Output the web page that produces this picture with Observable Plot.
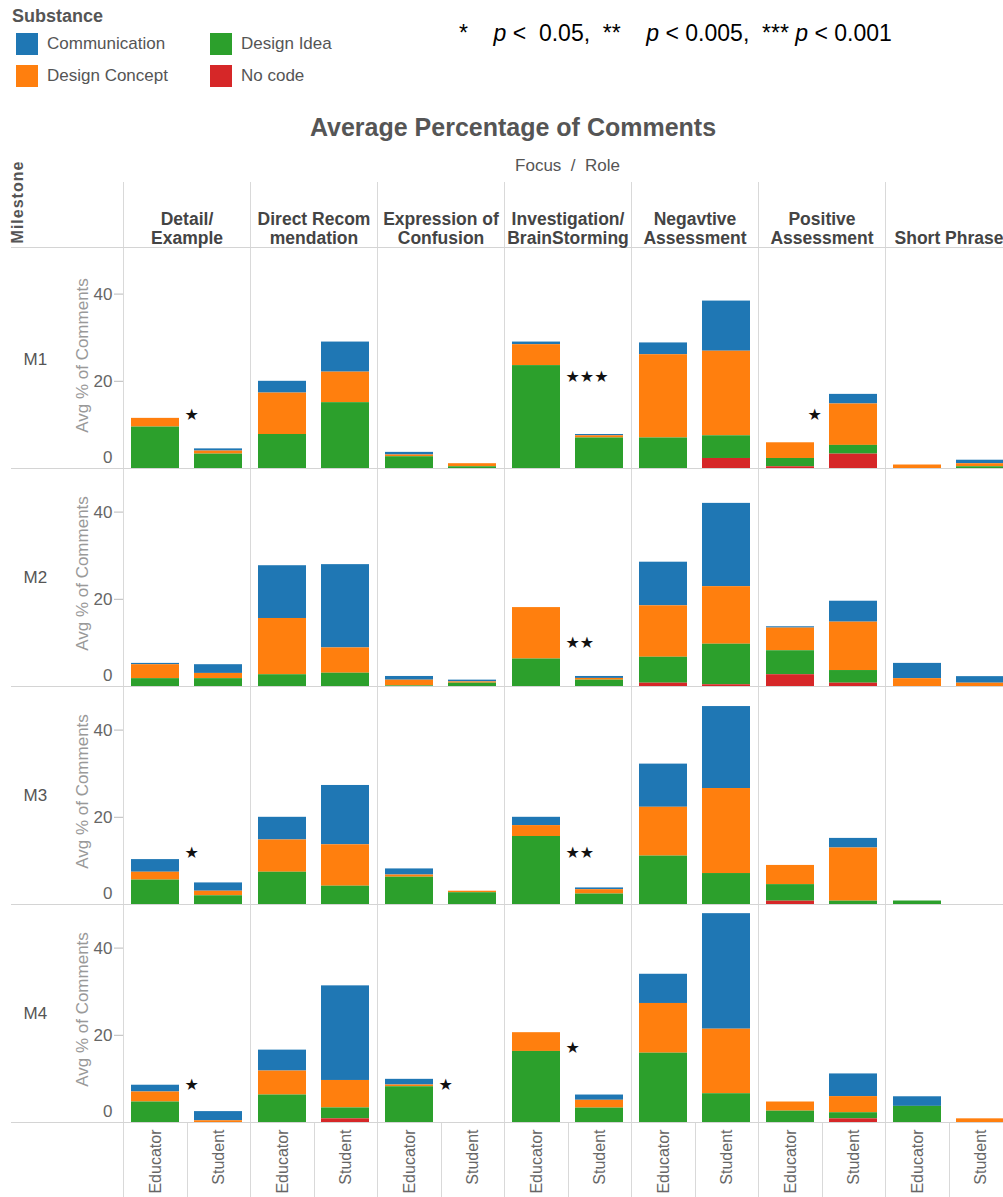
<!DOCTYPE html>
<html>
<head>
<meta charset="utf-8">
<script src="https://cdn.jsdelivr.net/npm/d3@7"></script>
<script src="https://cdn.jsdelivr.net/npm/@observablehq/plot@0.6"></script>
<style>
  html, body { margin: 0; padding: 0; background: #fff; overflow: hidden; }
  #page { position: relative; width: 1003px; height: 1197px; overflow: hidden;
          font-family: "Liberation Sans", Arial, sans-serif; color: #555; }
  .abs { position: absolute; white-space: nowrap; }
  .sw { position: absolute; width: 22px; height: 22px; }
  .lg { position: absolute; font-size: 17px; line-height: 20px; color: #555; }
  .sig { position: absolute; left: 459px; font-size: 23px; line-height: 26px; top: 20px; color: #000; white-space: pre; }
  #chart { position: absolute; left: 0; top: 140px; }
</style>
</head>
<body>
<div id="page">
  <div class="abs" style="left:12px; top:5px; font-size:18px; font-weight:bold; line-height:22px; color:#555;">Substance</div>
  <div id="legend"></div>
  <div class="sig">*    <i>p</i> &lt;  0.05,  **    <i>p</i> &lt; 0.005,  *** <i>p</i> &lt; 0.001</div>
  <div class="abs" style="left:0; width:1026px; top:113px; text-align:center; font-size:25px; font-weight:bold; line-height:28px; color:#555;">Average Percentage of Comments</div>
  <div class="abs" style="left:467px; width:201px; top:156px; text-align:center; font-size:17px; line-height:20px; color:#555;">Focus&nbsp; /&nbsp; Role</div>
  <div class="abs" style="left:18px; top:202px; font-size:16px; font-weight:bold; letter-spacing:1px; line-height:18px; color:#555; transform: translate(-50%,-50%) rotate(-90deg);">Milestone</div>
  <div id="chart"></div>
</div>
<script>
// ---------------- data ----------------
const milestones = ["M1", "M2", "M3", "M4"];
const focusLabels = ["Detail/\nExample", "Direct Recom\nmendation", "Expression of\nConfusion",
  "Investigation/\nBrainStorming", "Negavtive\nAssessment", "Positive\nAssessment", "Short Phrase"];
const roles = ["Educator", "Student"];
const substances = ["Communication", "Design Concept", "Design Idea", "No code"];
const stackOrder = ["No code", "Design Idea", "Design Concept", "Communication"];
const substanceColors = ["#1f77b4", "#ff7f0e", "#2ca02c", "#d62728"];

// values per milestone: [Detail E,S, Direct E,S, Expression E,S, Investigation E,S, Negative E,S, Positive E,S, Short E,S]
const commM1    = [0,   0.5, 2.7, 6.9,  0.6,  0,    0.6,  0.3, 2.7,  11.5, 0,   2.2, 0,   0.8];
const conceptM1 = [2.0, 0.7, 9.5, 7.0,  0.4,  0.7,  4.8,  0.5, 19.1, 19.4, 3.6, 9.5, 0.8, 0.7];
const ideaM1    = [9.5, 3.3, 7.8, 15.1, 2.7,  0.4,  23.6, 7.0, 7.0,  5.2,  1.9, 2.0, 0,   0.4];
const nocodeM1  = [0,   0,   0,   0,    0,    0,    0,    0,   0,    2.3,  0.4, 3.3, 0,   0];

const commM2    = [0.3, 2.0, 12.1, 19.1, 0.85, 0.4,  0,    0.45, 10.0, 19.1, 0.3, 4.8,  3.5, 1.5];
const conceptM2 = [3.2, 1.2, 12.9, 5.8,  1.3,  0.3,  11.8, 0.4,  11.8, 13.2, 5.2, 11.1, 1.8, 0.76];
const ideaM2    = [1.8, 1.8, 2.7,  3.05, 0.15, 0.76, 6.3,  1.45, 5.95, 9.3,  5.5, 2.9,  0,   0];
const nocodeM2  = [0,   0,   0,    0,    0,    0,    0,    0,    0.76, 0.4,  2.7, 0.76, 0,   0];

const commM3    = [2.9, 1.9,  5.2, 13.6, 1.4,  0,    1.9,  0.4, 9.9,  18.8, 0,    2.2,  0,   0];
const conceptM3 = [1.8, 1.05, 7.4, 9.5,  0.5,  0.35, 2.5,  1.0, 11.2, 19.5, 4.4,  12.2, 0,   0];
const ideaM3    = [5.6, 2.0,  7.4, 4.2,  6.26, 2.7,  15.6, 2.4, 11.1, 7.1,  3.8,  0.76, 0.8, 0];
const nocodeM3  = [0,   0,    0,   0,    0,    0,    0,    0,   0,    0,    0.76, 0,    0,   0];

const commM4    = [1.55, 2.1, 4.8, 21.7, 1.3, 0, 0,    1.2, 6.7,  26.5, 0,   5.2,  2.2, 0];
const conceptM4 = [2.3,  0.4, 5.5, 6.3,  0.4, 0, 4.3,  1.8, 11.4, 14.8, 2.1, 3.7,  0,   0.84];
const ideaM4    = [4.7,  0,   6.3, 2.5,  8.2, 0, 16.3, 3.3, 15.9, 6.6,  2.6, 1.4,  3.7, 0];
const nocodeM4  = [0,    0,   0,   0.84, 0,   0, 0,    0,   0,    0,    0,   0.84, 0,   0];

// significance markers
const starMilestones = ["M1", "M1", "M2", "M3", "M3", "M4", "M4", "M4"];
const starFocus = [0, 3, 3, 0, 3, 0, 2, 3];
const starTexts = ["★", "★★★", "★★", "★", "★★", "★", "★", "★"];
const starValues = [12.4, 21.0, 10.0, 11.75, 11.9, 8.6, 8.6, 17.2];
const star2Milestones = ["M1"];
const star2Focus = [5];
const star2Texts = ["★"];
const star2Values = [12.3];

// ---------------- table ----------------
const series = {
  "Communication":  [commM1, commM2, commM3, commM4],
  "Design Concept": [conceptM1, conceptM2, conceptM3, conceptM4],
  "Design Idea":    [ideaM1, ideaM2, ideaM3, ideaM4],
  "No code":        [nocodeM1, nocodeM2, nocodeM3, nocodeM4]
};
const table = [];
for (const s of substances) {
  series[s].forEach((arr, mi) => {
    arr.forEach((v, i) => {
      table.push({milestone: milestones[mi], focus: focusLabels[Math.floor(i / 2)], role: roles[i % 2], substance: s, value: v});
    });
  });
}
const stars = starTexts.map((t, i) => ({milestone: starMilestones[i], focus: focusLabels[starFocus[i]], text: t, value: starValues[i]}));
const stars2 = star2Texts.map((t, i) => ({milestone: star2Milestones[i], focus: focusLabels[star2Focus[i]], text: t, value: star2Values[i]}));

// ---------------- legend ----------------
const legendPos = [[16, 33], [16, 65], [210, 33], [210, 65]];
const legend = document.getElementById("legend");
substances.forEach((s, i) => {
  const [x, y] = legendPos[i];
  const sw = document.createElement("div");
  sw.className = "sw"; sw.style.left = x + "px"; sw.style.top = y + "px"; sw.style.background = substanceColors[i];
  legend.appendChild(sw);
  const lb = document.createElement("div");
  lb.className = "lg"; lb.style.left = (x + 31) + "px"; lb.style.top = (y + 1) + "px"; lb.textContent = s;
  legend.appendChild(lb);
});

// ---------------- plot ----------------
const FONT = "Liberation Sans, Arial, sans-serif";
const first = () => focusLabels[0];
const W = 1014, H = 1063, MT = 108, MB = 80, ML = 121, MR = 1;
const plot = Plot.plot({
  width: W, height: H,
  marginTop: MT, marginBottom: MB, marginLeft: ML, marginRight: MR,
  style: {maxWidth: "none", fontFamily: FONT, overflow: "visible", background: "transparent"},
  fx: {domain: focusLabels, padding: 0, axis: null},
  fy: {domain: milestones, padding: 0, axis: null},
  x: {domain: roles, paddingInner: 0.24, paddingOuter: 0.125, axis: null},
  y: {domain: [0, 50], axis: null},
  color: {domain: substances, range: substanceColors},
  marks: [
    Plot.barY(table, {fx: "focus", fy: "milestone", x: "role", y: "value", fill: "substance", order: stackOrder}),
    Plot.axisY({ticks: [20, 40], tickSize: 9, tickPadding: 2, fontSize: 17, fill: "#666", stroke: "#bbb", label: null}),
    Plot.text(milestones, {fx: first, fy: d => d, y: () => 0, text: () => "0", frameAnchor: "left",
      dx: -11, dy: -11, textAnchor: "end", fontSize: 17, fill: "#666"}),
    Plot.text(milestones, {fx: first, fy: d => d, text: d => d, frameAnchor: "left",
      dx: -100, textAnchor: "start", fontSize: 17, fill: "#555"}),
    Plot.text(milestones, {fx: first, fy: d => d, text: () => "Avg % of Comments", frameAnchor: "left",
      dx: -41, dy: -4, rotate: -90, textAnchor: "middle", fontSize: 17, fill: "#999"}),
    Plot.text(focusLabels, {fx: d => d, fy: () => "M1", text: d => d, frameAnchor: "top", dy: -7,
      lineAnchor: "bottom", lineHeight: 1.07, fontSize: 17.5, fontWeight: "bold", fill: "#444"}),
    Plot.axisX({anchor: "bottom", tickRotate: -90, tickSize: 0, tickPadding: 7, fontSize: 16, fill: "#666", label: null}),
    Plot.text(stars, {fx: "focus", fy: "milestone", x: () => "Educator", y: "value", text: "text",
      textAnchor: "start", dx: 29, fontSize: 16, fill: "#111", fontFamily: "DejaVu Sans"}),
    Plot.text(stars2, {fx: "focus", fy: "milestone", x: () => "Educator", y: "value", text: "text",
      textAnchor: "start", dx: 17, fontSize: 16, fill: "#111", fontFamily: "DejaVu Sans"})
  ]
});
document.getElementById("chart").appendChild(plot);

// ---------------- separators (decoration, placed with the plot's facet scales) ----------------
const fx = plot.scale("fx"), fy = plot.scale("fy");
const svg = d3.select(plot);
const g = svg.insert("g", "g").attr("stroke", "#d9d9d9").attr("stroke-width", 1).attr("fill", "none");
const bw = fx.bandwidth;
const bh = fy.bandwidth;
const x0 = fx.apply(focusLabels[0]);
const bottom = fy.apply(milestones[milestones.length - 1]) + bh;
for (let i = 0; i <= focusLabels.length; i++) {
  const x = Math.round(x0 + i * bw) + 0.5;
  g.append("line").attr("x1", x).attr("x2", x).attr("y1", 42).attr("y2", H);
}
for (let i = 0; i < focusLabels.length; i++) {
  const x = Math.round(x0 + i * bw + bw / 2) + 0.5;
  g.append("line").attr("x1", x).attr("x2", x).attr("y1", bottom).attr("y2", H);
}
const hy = [MT - 1, ...milestones.map(m => fy.apply(m) + bh)];
for (const y of hy) {
  const yy = Math.round(y) + 0.5;
  g.append("line").attr("x1", 11).attr("x2", W).attr("y1", yy).attr("y2", yy).attr("stroke", "#d4d4d4");
}
</script>
</body>
</html>
